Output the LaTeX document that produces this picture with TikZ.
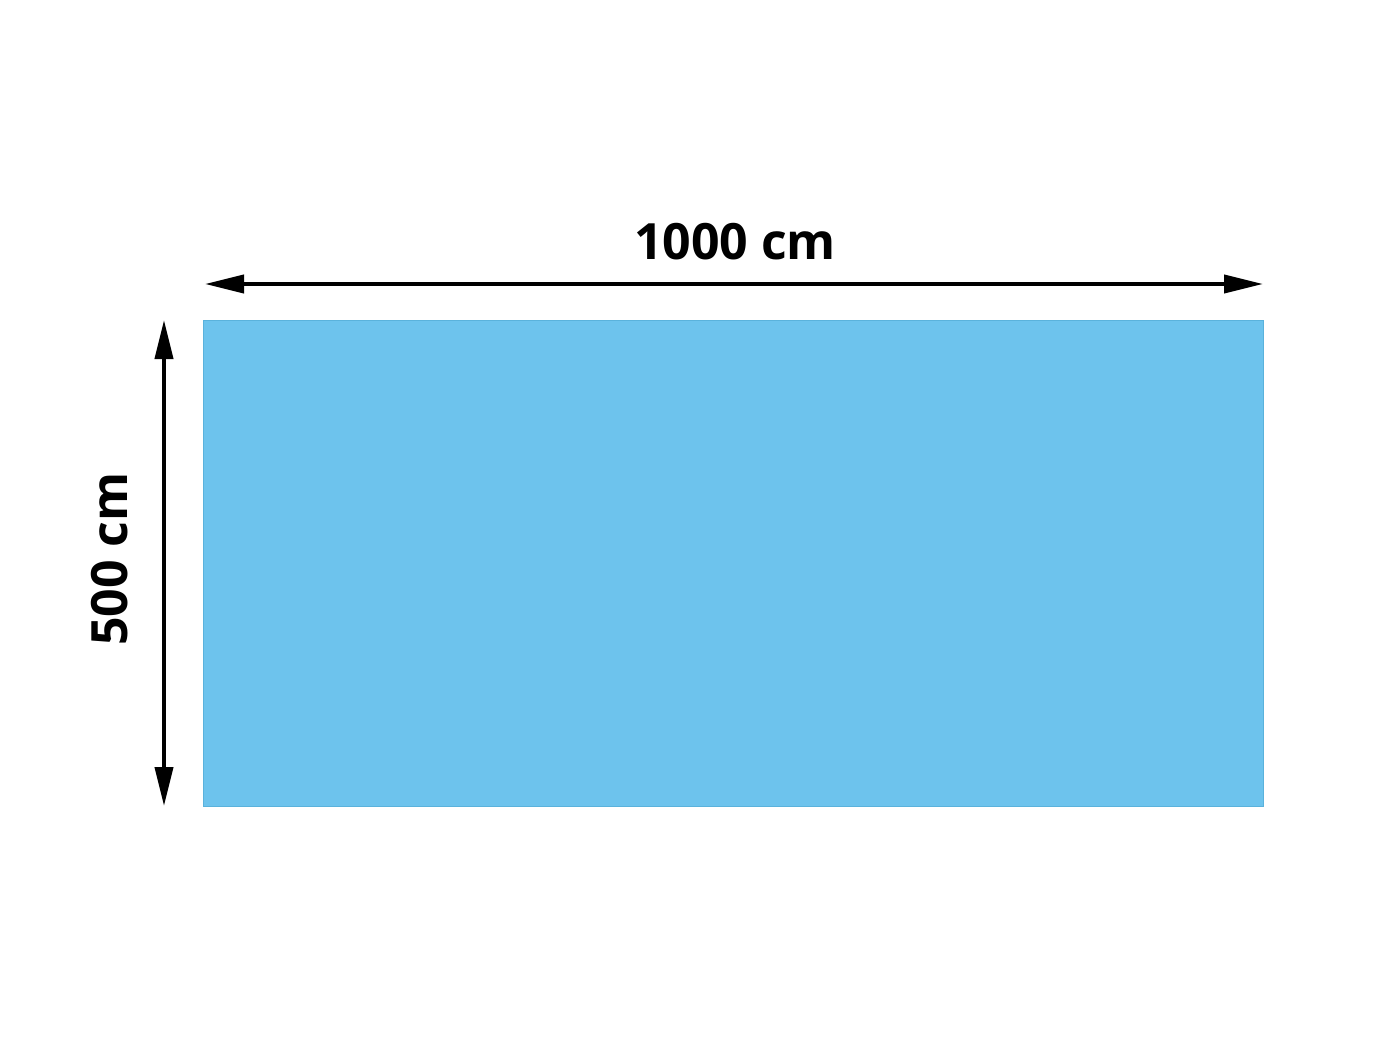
\documentclass[tikz,border=0pt]{standalone}
\usepackage{fontspec}
\setmainfont{Open Sans}
\usetikzlibrary{arrows.meta}
\definecolor{pool}{HTML}{6DC3ED}
\definecolor{poolline}{HTML}{5AB2DC}
\begin{document}
\begin{tikzpicture}[x=1pt,y=-1pt,
  dim/.style={line width=4pt,{Triangle[length=39pt,width=18pt]}-{Triangle[length=39pt,width=18pt]}},
  lbl/.style={font=\fontsize{50}{50}\selectfont\bfseries,inner sep=0pt}]
\useasboundingbox (0,0) rectangle (1400,1050);
\node[fill=pool,draw=poolline,line width=1pt,minimum width=1060pt,minimum height=486pt,anchor=north west,inner sep=0pt] (pool) at (203,320) {};
\coordinate (hl) at (205,284);
\coordinate (hr) at (1263,284);
\coordinate (vt) at (164,320);
\coordinate (vb) at (164,806);
\draw[dim] (hl) -- (hr);
\draw[dim] (vt) -- (vb);
\node[lbl,anchor=base] (wlab) at (735,259) {1000 cm};
\node[lbl,anchor=base,rotate=90] (hlab) at (127,559) {500 cm};
\end{tikzpicture}
\end{document}
